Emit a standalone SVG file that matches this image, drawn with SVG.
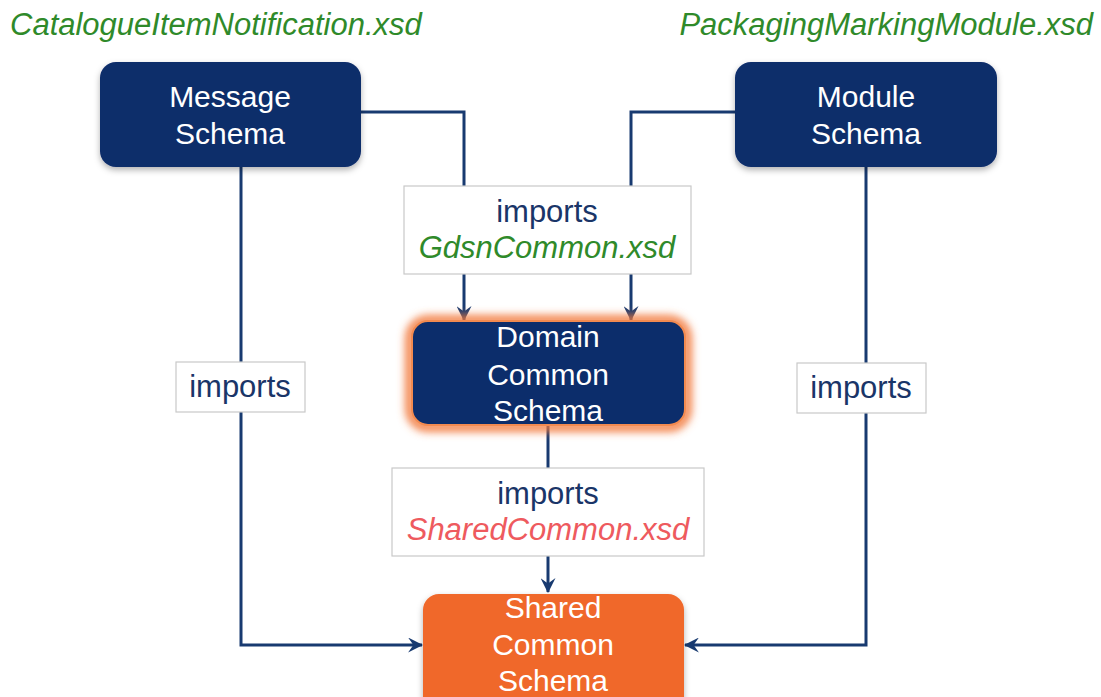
<svg xmlns="http://www.w3.org/2000/svg" width="1101" height="697" viewBox="0 0 1101 697">
<style>
  text { font-family: "Liberation Sans", Arial, sans-serif; font-size: 31px; }
  .node { fill: #0C2D6B; }
  .nodetext { fill: #FFFFFF; text-anchor: middle; font-size: 30px; }
  .label { fill: #FFFFFF; stroke: #C9C9C9; stroke-width: 1.2; }
  .imports { fill: #1A3568; text-anchor: middle; }
  .green { fill: #2F8A2A; font-style: italic; }
  .red { fill: #EE5A5E; font-style: italic; text-anchor: middle; }
  .conn { fill: none; stroke: #183A70; stroke-width: 3; }
</style>
<defs>
  <marker id="arrow" viewBox="0 0 14 14" refX="13" refY="7" markerWidth="15" markerHeight="15" markerUnits="userSpaceOnUse" orient="auto">
    <path d="M0,0 L14,7 L0,14 L5,7 Z" fill="#183A70"/>
  </marker>
  <filter id="shadow" x="-10%" y="-10%" width="120%" height="130%">
    <feDropShadow dx="0" dy="3" stdDeviation="3" flood-color="#000" flood-opacity="0.3"/>
  </filter>
  <filter id="glow" x="-20%" y="-30%" width="140%" height="160%">
    <feGaussianBlur stdDeviation="4"/>
  </filter>
</defs>
<rect width="1101" height="697" fill="#FFFFFF"/>

<text class="green" x="10" y="35">CatalogueItemNotification.xsd</text>
<text class="green" x="1093" y="35" text-anchor="end">PackagingMarkingModule.xsd</text>

<g id="connectors">
  <path class="conn" d="M361,112 H464 V320" marker-end="url(#arrow)"/>
  <path class="conn" d="M735,112 H631 V320" marker-end="url(#arrow)"/>
  <path class="conn" d="M241,167 V645 H422" marker-end="url(#arrow)"/>
  <path class="conn" d="M866,167 V645 H685" marker-end="url(#arrow)"/>
  <path class="conn" d="M548,425 V592" marker-end="url(#arrow)"/>
</g>

<g id="label-gdsn">
  <rect class="label" x="404" y="186" width="287" height="88"/>
  <text class="imports" x="547" y="222">imports</text>
  <text class="green" x="547" y="258" text-anchor="middle">GdsnCommon.xsd</text>
</g>
<g id="label-left">
  <rect class="label" x="176" y="362" width="129" height="50"/>
  <text class="imports" x="240" y="397">imports</text>
</g>
<g id="label-right">
  <rect class="label" x="797" y="363" width="129" height="50"/>
  <text class="imports" x="861" y="398">imports</text>
</g>
<g id="label-shared">
  <rect class="label" x="392" y="468" width="312" height="88"/>
  <text class="imports" x="548" y="504">imports</text>
  <text class="red" x="548" y="540">SharedCommon.xsd</text>
</g>

<g id="message-schema">
  <rect class="node" x="100" y="62" width="261" height="105" rx="16" filter="url(#shadow)"/>
  <text class="nodetext" x="230" y="107">Message</text>
  <text class="nodetext" x="230" y="144">Schema</text>
</g>
<g id="module-schema">
  <rect class="node" x="735" y="62" width="262" height="105" rx="16" filter="url(#shadow)"/>
  <text class="nodetext" x="866" y="107">Module</text>
  <text class="nodetext" x="866" y="144">Schema</text>
</g>
<g id="domain-common-schema">
  <rect x="410" y="320" width="277" height="107" rx="18" fill="none" stroke="#F2783A" stroke-width="9" filter="url(#glow)"/>
  <rect class="node" x="412" y="321" width="273" height="104" rx="16" stroke="#F28A50" stroke-width="2"/>
  <text class="nodetext" x="548" y="347">Domain</text>
  <text class="nodetext" x="548" y="385">Common</text>
  <text class="nodetext" x="548" y="421">Schema</text>
</g>
<g id="shared-common-schema">
  <rect x="423" y="594" width="261" height="120" rx="16" fill="#F0682C" filter="url(#shadow)"/>
  <text class="nodetext" x="553" y="618">Shared</text>
  <text class="nodetext" x="553" y="655">Common</text>
  <text class="nodetext" x="553" y="691">Schema</text>
</g>
</svg>
